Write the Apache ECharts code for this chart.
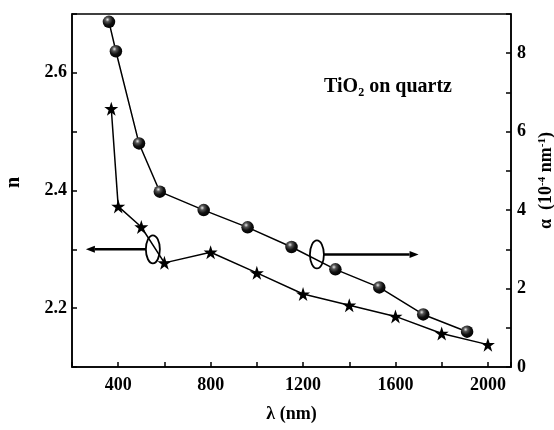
<!DOCTYPE html>
<html><head><meta charset="utf-8">
<script src="https://cdn.jsdelivr.net/npm/echarts@6.0.0/dist/echarts.min.js"></script>
<style>html,body{margin:0;padding:0;background:#fff}#c{width:554px;height:430px}</style>
</head><body><div id="c"></div>
<script>
// Refractive index n (left axis) vs wavelength
const nWavelength = [370, 400, 500, 600, 800, 1000, 1200, 1400, 1600, 1800, 2000];
const nValues = [2.539, 2.373, 2.338, 2.277, 2.295, 2.260, 2.224, 2.205, 2.186, 2.157, 2.138];
// Absorption coefficient alpha (right axis, 10^-4 nm^-1) vs wavelength
const alphaWavelength = [360, 390, 490, 580, 770, 960, 1150, 1340, 1530, 1720, 1910];
const alphaValues = [8.80, 8.05, 5.70, 4.47, 4.00, 3.56, 3.06, 2.49, 2.03, 1.34, 0.90];
// Tick labels
const xTickLabels = [400, 800, 1200, 1600, 2000];
const nTickLabels = [2.2, 2.4, 2.6];
const alphaTickLabels = [0, 2, 4, 6, 8];
// Annotation anchors (data coordinates)
const nMarker = { x: 550, y: 2.3, arrowTo: 260 };
const alphaMarker = { x: 1260, y: 2.87, arrowTo: 1700 };

const FONT = '"Liberation Serif", "Times New Roman", serif';
const has = (arr, v) => arr.some(t => Math.abs(t - v) < 1e-6);

const chart = echarts.init(document.getElementById('c'), null, { renderer: 'canvas' });

const ballColor = {
  type: 'radial', x: 0.38, y: 0.32, r: 0.7,
  colorStops: [
    { offset: 0, color: '#e8e8e8' },
    { offset: 0.25, color: '#555' },
    { offset: 0.6, color: '#111' },
    { offset: 1, color: '#000' }
  ]
};
const starPath = 'path://M50,0 L61.8,35.1 L98.9,35.1 L68.9,56.8 L80.3,91.9 L50,70.2 L19.7,91.9 L31.1,56.8 L1.1,35.1 L38.2,35.1 Z';

const axisCommon = {
  axisLine: { show: true, onZero: false, lineStyle: { color: '#000', width: 1.5 } },
  axisTick: { show: true, inside: true, length: 5, lineStyle: { color: '#000', width: 1.5 } },
  splitLine: { show: false },
  nameTextStyle: { color: '#000', fontFamily: FONT, fontWeight: 'bold', fontSize: 18 }
};

chart.setOption({
  animation: false,
  backgroundColor: '#fff',
  grid: {
    left: 72, right: 43, top: 14, bottom: 63,
    show: true, borderColor: '#000', borderWidth: 1.5, backgroundColor: 'transparent',
    outerBoundsMode: 'none', containLabel: false
  },
  xAxis: Object.assign({}, axisCommon, {
    type: 'value', min: 200, max: 2100, interval: 200,
    name: 'λ (nm)', nameLocation: 'middle', nameGap: 38,
    nameTextStyle: Object.assign({}, axisCommon.nameTextStyle, { verticalAlign: 'top' }),
    axisLabel: {
      color: '#000', fontFamily: FONT, fontWeight: 'bold', fontSize: 18, margin: 9,
      formatter: v => has(xTickLabels, v) ? String(v) : ''
    }
  }),
  yAxis: [
    Object.assign({}, axisCommon, {
      type: 'value', min: 2.1, max: 2.7, interval: 0.1, position: 'left',
      name: 'n', nameLocation: 'middle', nameRotate: 90, nameGap: 48,
      nameTextStyle: Object.assign({}, axisCommon.nameTextStyle, { fontSize: 20, padding: [0, 0, 0, 16] }),
      axisLabel: {
        color: '#000', fontFamily: FONT, fontWeight: 'bold', fontSize: 18, margin: 5,
        formatter: v => has(nTickLabels, v) ? v.toFixed(1) : ''
      }
    }),
    Object.assign({}, axisCommon, {
      type: 'value', min: 0, max: 9, interval: 1, position: 'right',
      name: '{a|α}  {b|(10}{s|-4}{b| nm}{s|-1}{b|)}', nameLocation: 'middle', nameRotate: 90, nameGap: 18,
      nameTextStyle: {
        color: '#000', fontFamily: FONT, fontWeight: 'bold', fontSize: 18, padding: [0, 0, 0, 20],
        rich: {
          a: { fontFamily: FONT, fontWeight: 'bold', fontSize: 18, color: '#000' },
          b: { fontFamily: FONT, fontWeight: 'bold', fontSize: 18, color: '#000' },
          s: { fontFamily: FONT, fontWeight: 'bold', fontSize: 11, color: '#000', verticalAlign: 'top', padding: [0, 0, 8, 0] }
        }
      },
      axisLabel: {
        color: '#000', fontFamily: FONT, fontWeight: 'bold', fontSize: 18, margin: 6,
        formatter: v => has(alphaTickLabels, v) ? String(v) : ''
      }
    })
  ],
  series: [
    {
      name: 'n', type: 'line', xAxisIndex: 0, yAxisIndex: 0,
      data: nWavelength.map((x, i) => [x, nValues[i]]),
      symbol: starPath, symbolSize: 14, showSymbol: true,
      itemStyle: { color: '#000' },
      lineStyle: { color: '#000', width: 1.5 },
      emphasis: { disabled: true }, z: 3
    },
    {
      name: 'alpha', type: 'line', xAxisIndex: 0, yAxisIndex: 1,
      data: alphaWavelength.map((x, i) => [x, alphaValues[i]]),
      symbol: 'circle', symbolSize: 12.5, showSymbol: true,
      itemStyle: { color: ballColor },
      lineStyle: { color: '#000', width: 1.5 },
      emphasis: { disabled: true }, z: 3
    }
  ]
});

function arrowGraphics(marker, yAxisIndex, dir) {
  const c = chart.convertToPixel({ xAxisIndex: 0, yAxisIndex: yAxisIndex }, [marker.x, marker.y]);
  const e = chart.convertToPixel({ xAxisIndex: 0, yAxisIndex: yAxisIndex }, [marker.arrowTo, marker.y]);
  const rx = 7, ry = 14, head = 9, hw = 3.5;
  const startX = c[0] + dir * rx;
  const tipX = e[0];
  const baseX = tipX - dir * head;
  return [
    { type: 'ellipse', shape: { cx: c[0], cy: c[1], rx: rx, ry: ry }, style: { fill: null, stroke: '#000', lineWidth: 1.8 }, z: 10 },
    { type: 'line', shape: { x1: startX, y1: c[1], x2: baseX, y2: c[1] }, style: { stroke: '#000', lineWidth: 2.5 }, z: 10 },
    { type: 'polygon', shape: { points: [[tipX, c[1]], [baseX, c[1] - hw], [baseX, c[1] + hw]] }, style: { fill: '#000' }, z: 10 }
  ];
}

chart.setOption({
  graphic: [].concat(
    arrowGraphics(nMarker, 0, -1),
    arrowGraphics(alphaMarker, 1, 1),
    [{
      type: 'text', x: 388, y: 87, z: 10,
      style: {
        text: '{a|TiO}{s|2}{a| on quartz}',
        align: 'center', verticalAlign: 'middle',
        rich: {
          a: { fontFamily: FONT, fontWeight: 'bold', fontSize: 20, fill: '#000' },
          s: { fontFamily: FONT, fontWeight: 'bold', fontSize: 12, fill: '#000', padding: [11, 0, 0, 0] }
        }
      }
    }]
  )
});
</script>
</body></html>
